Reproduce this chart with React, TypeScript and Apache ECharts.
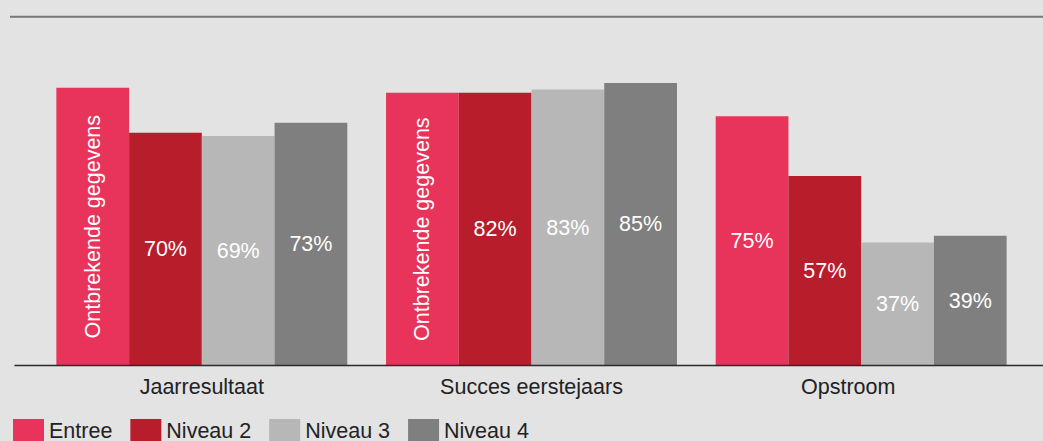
import React, { useEffect, useRef } from "react";
import * as echarts from "echarts";

const categories = ["Jaarresultaat", "Succes eerstejaars", "Opstroom"];
const seriesNames = ["Entree", "Niveau 2", "Niveau 3", "Niveau 4"];
const entreeValues = [83.5, 82, 75];
const entreeMissing = [true, true, false];
const niveau2Values = [70, 82, 57];
const niveau3Values = [69, 83, 37];
const niveau4Values = [73, 85, 39];
const missingText = "Ontbrekende gegevens";

const colors = ["#e8345a", "#b81d2c", "#b7b7b7", "#7f7f7f"];
const FONT = "Liberation Sans, Arial, sans-serif";
const FS = 21.5;

export default function App() {
  const ref = useRef<HTMLDivElement>(null);
  useEffect(() => {
    document.body.style.margin = "0";
    if (!ref.current) return;
    const chart = echarts.init(ref.current, undefined, { renderer: "svg" });
    const labelBase = {
      show: true,
      position: "inside",
      color: "#ffffff",
      fontSize: FS,
      fontFamily: FONT,
      formatter: (p: any) => p.value + "%",
    };
    const entreeData = entreeValues.map((v, i) =>
      entreeMissing[i]
        ? { value: v, label: { formatter: missingText, rotate: 90 } }
        : { value: v }
    );
    const all = [entreeData, niveau2Values, niveau3Values, niveau4Values];
    chart.setOption({
      animation: false,
      backgroundColor: "#e3e3e3",
      textStyle: { fontFamily: FONT },
      color: colors,
      grid: { left: 37, right: 17, top: 33, bottom: 75.5 },
      legend: {
        left: 13,
        top: 419,
        padding: 0,
        itemWidth: 31,
        itemHeight: 24,
        itemGap: 18,
        icon: "rect",
        data: seriesNames,
        textStyle: { fontSize: FS, color: "#222222", fontFamily: FONT },
      },
      xAxis: {
        type: "category",
        data: categories,
        axisLine: { show: false },
        axisTick: { show: false },
        axisLabel: {
          margin: 10,
          fontSize: FS,
          color: "#222222",
          fontFamily: FONT,
          formatter: (v: string) => (v === "Opstroom" ? "{s|" + v + "}" : v),
          rich: {
            s: {
              fontSize: FS,
              color: "#222222",
              fontFamily: FONT,
              padding: [0, 26, 0, 0],
            },
          },
        },
      },
      yAxis: {
        type: "value",
        min: 0,
        max: 100,
        show: false,
        splitLine: { show: false },
      },
      series: all.map((d, i) => ({
        name: seriesNames[i],
        type: "bar",
        data: d,
        barGap: "0%",
        barCategoryGap: "11.75%",
        label: labelBase,
        itemStyle: { color: colors[i] },
      })),
      graphic: [
        {
          type: "line",
          z: 100,
          shape: { x1: 10, y1: 16.7, x2: 1043, y2: 16.7 },
          style: { stroke: "#777777", lineWidth: 2 },
        },
        {
          type: "line",
          z: 100,
          shape: { x1: 14.5, y1: 365.5, x2: 1043, y2: 365.5 },
          style: { stroke: "#2a2a2a", lineWidth: 1.5 },
        },
      ],
    });
    return () => chart.dispose();
  }, []);
  return <div ref={ref} style={{ width: 1043, height: 441 }} />;
}
